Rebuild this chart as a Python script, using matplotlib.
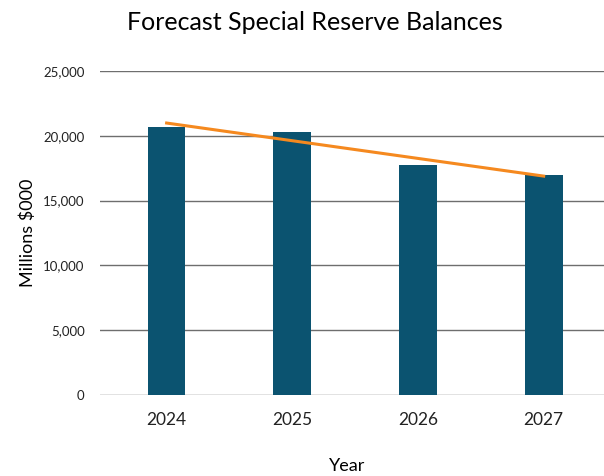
import matplotlib
matplotlib.use("Agg")
import matplotlib.pyplot as plt
import numpy as np

years = ["2024", "2025", "2026", "2027"]
balances = [20690, 20310, 17760, 16990]   # Millions $000
yticks = [0, 5000, 10000, 15000, 20000, 25000]

plt.rcParams['font.family'] = ['Lato', 'DejaVu Sans']

fig = plt.figure(figsize=(6.04, 4.76), dpi=100)
ax = fig.add_axes([100 / 604, 81 / 476, 504 / 604, 324 / 476])

x = np.arange(len(years))
ax.bar(x, balances, width=0.3, color='#0b5370', zorder=3)

# linear trendline through the balances
slope, intercept = np.polyfit(x, balances, 1)
ax.plot(x[[0, -1]], slope * x[[0, -1]] + intercept, color='#f5891f', lw=2.2, zorder=4)

ax.set_xlim(-0.53, len(years) - 0.52)
ax.set_ylim(0, 25000)
ax.set_yticks(yticks)
ax.set_yticklabels([f"{v:,}" for v in yticks], fontsize=9.5, color='#222222')
ax.set_xticks(x)
ax.set_xticklabels(years, fontsize=12.5, color='#222222')
ax.tick_params(axis='y', length=0, pad=11)
ax.tick_params(axis='x', length=0, pad=12)
ax.grid(axis='y', color='#6e6e6e', lw=1, zorder=0)
for s in ax.spines.values():
    s.set_visible(False)

ax.set_ylabel("Millions $000", fontsize=13, labelpad=5)
fig.text(347 / 604, 1 - 466 / 476, "Year", fontsize=13, ha='center', va='center')
fig.text(315 / 604, 1 - 23 / 476, "Forecast Special Reserve Balances", fontsize=18,
         ha='center', va='center')

fig.savefig("out.png", dpi=100)
